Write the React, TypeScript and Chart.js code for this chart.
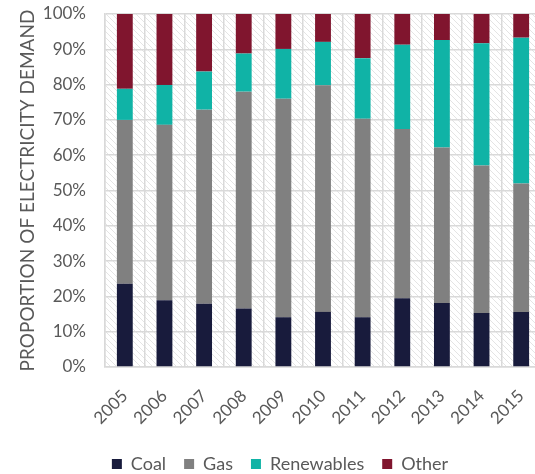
import React, { useEffect, useRef } from "react";
import { Chart, registerables } from "chart.js";

Chart.register(...registerables);

const years = ["2005", "2006", "2007", "2008", "2009", "2010", "2011", "2012", "2013", "2014", "2015"];
const coal = [23.6, 18.9, 17.9, 16.6, 14.1, 15.6, 14.1, 19.5, 18.1, 15.3, 15.6];
const gas = [46.4, 49.7, 55.0, 61.4, 61.9, 64.2, 56.2, 47.9, 44.1, 41.8, 36.4];
const renewables = [8.8, 11.3, 10.8, 10.8, 14.1, 12.3, 17.2, 23.9, 30.4, 34.6, 41.3];
const other = [21.2, 20.1, 16.3, 11.2, 9.9, 7.9, 12.5, 8.7, 7.4, 8.3, 6.7];

const FONT = "Lato, 'Open Sans', sans-serif";
const TEXT = "#595959";
const GRID = "#d9d9d9";

const hatchPlugin = {
  id: "hatchBg",
  beforeDraw(chart: any) {
    const { ctx, chartArea } = chart;
    if (!chartArea) return;
    const { left, top, right, bottom } = chartArea;
    ctx.save();
    ctx.fillStyle = "#ffffff";
    ctx.fillRect(left, top, right - left, bottom - top);
    ctx.beginPath();
    ctx.rect(left, top, right - left, bottom - top);
    ctx.clip();
    ctx.strokeStyle = "#e4e4e4";
    ctx.lineWidth = 1;
    const h = bottom - top;
    for (let x = left - h; x < right + h; x += 6) {
      ctx.beginPath();
      ctx.moveTo(x, top);
      ctx.lineTo(x + h, bottom);
      ctx.stroke();
    }
    ctx.restore();
  },
};

export default function App() {
  const ref = useRef<HTMLCanvasElement | null>(null);
  useEffect(() => {
    if (!ref.current) return;
    const chart = new Chart(ref.current, {
      type: "bar",
      data: {
        labels: years,
        datasets: [
          { label: "Coal", data: coal, backgroundColor: "#181b3c" },
          { label: "Gas", data: gas, backgroundColor: "#808080" },
          { label: "Renewables", data: renewables, backgroundColor: "#10b3a6" },
          { label: "Other", data: other, backgroundColor: "#80152e" },
        ],
      },
      options: {
        responsive: false,
        animation: false,
        devicePixelRatio: 1,
        datasets: { bar: { categoryPercentage: 1, barPercentage: 0.4 } },
        layout: { padding: { top: 14, left: 0, right: 0, bottom: 0 } },
        plugins: {
          tooltip: { enabled: false },
          legend: {
            position: "bottom",
            labels: {
              boxWidth: 10,
              boxHeight: 10,
              padding: 18,
              color: TEXT,
              font: { family: FONT, size: 18 },
            },
          },
        },
        scales: {
          x: {
            stacked: true,
            grid: { color: GRID, lineWidth: 1.5, drawTicks: false, offset: true },
            border: { color: GRID, width: 1.5 },
            ticks: {
              color: TEXT,
              font: { family: FONT, size: 17 },
              minRotation: 45,
              maxRotation: 45,
              padding: 19,
            },
            afterFit: (s: any) => {
              s.height = 70;
              s.paddingLeft = 0;
              s.paddingRight = 19;
            },
          },
          y: {
            stacked: true,
            min: 0,
            max: 100,
            grid: { color: GRID, lineWidth: 1.5, drawTicks: false },
            border: { color: GRID, width: 1.5 },
            ticks: {
              stepSize: 10,
              color: TEXT,
              padding: 19,
              font: { family: FONT, size: 17 },
              callback: (v: any) => v + "%",
            },
            title: {
              display: true,
              text: "PROPORTION OF ELECTRICITY DEMAND",
              color: TEXT,
              font: { family: FONT, size: 19 },
              padding: { top: 16, bottom: 0 },
            },
            afterFit: (s: any) => {
              s.width = 105;
              s.paddingTop = 0;
              s.paddingBottom = 0;
            },
          },
        },
      },
      plugins: [hatchPlugin],
    });
    return () => chart.destroy();
  }, []);
  return (
    <div style={{ position: "fixed", left: 0, top: 0, width: 535, height: 474, overflow: "hidden", background: "#fff" }}>
      <canvas ref={ref} width={560} height={483} style={{ display: "block" }} />
    </div>
  );
}
